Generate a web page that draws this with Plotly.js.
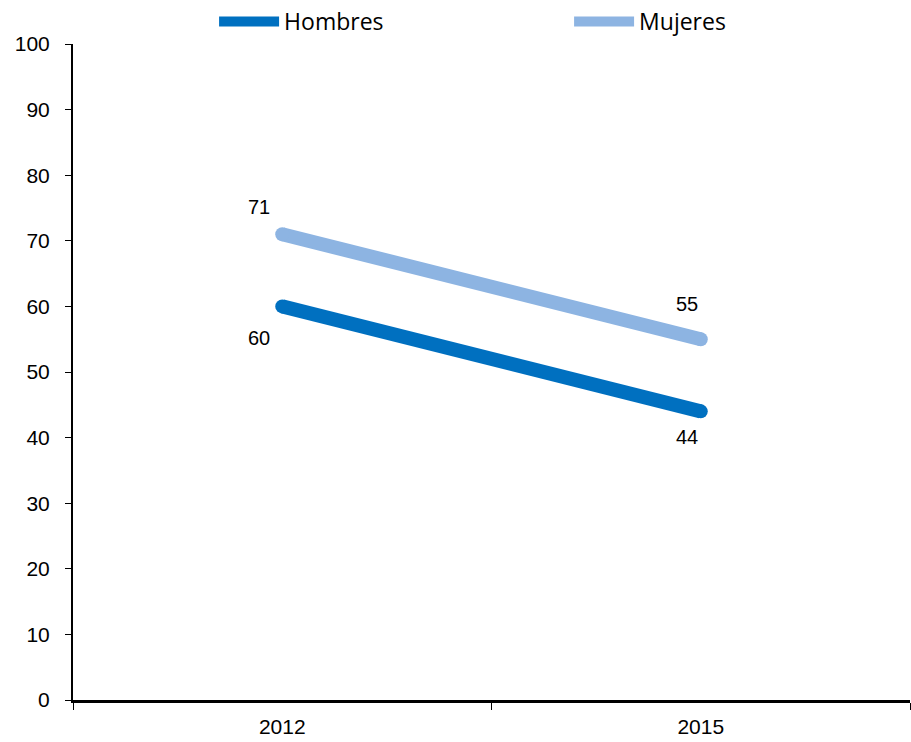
<!DOCTYPE html>
<html><head><meta charset="utf-8">
<script src="https://cdn.plot.ly/plotly-3.0.1.min.js"></script>
<style>html,body{margin:0;padding:0;background:#fff}</style>
</head><body>
<div id="chart" style="width:911px;height:742px"></div>
<script>
const years = ["2012", "2015"];
const hombres = [60, 44];
const mujeres = [71, 55];
const yTicks = [0, 10, 20, 30, 40, 50, 60, 70, 80, 90, 100];
const hombresLabelShift = [[-23, -32], [-14, -26]];
const mujeresLabelShift = [[-23, 27], [-14, 35]];

const labelFont = {family: "Liberation Sans, Arial, sans-serif", size: 20, color: "#000"};
const cH = "#0070C0", cM = "#8DB4E2";

const traces = [
  {x: years, y: hombres, name: "Hombres", type: "scatter", mode: "lines",
   line: {color: cH, width: 14}},
  {x: years, y: hombres, name: "Hombres", type: "scatter", mode: "markers", showlegend: false,
   marker: {color: cH, size: 14, line: {width: 0}}},
  {x: years, y: mujeres, name: "Mujeres", type: "scatter", mode: "lines",
   line: {color: cM, width: 14}},
  {x: years, y: mujeres, name: "Mujeres", type: "scatter", mode: "markers", showlegend: false,
   marker: {color: cM, size: 14, line: {width: 0}}}
];

const annotations = [];
years.forEach((yr, i) => {
  annotations.push({x: i, y: hombres[i], xref: "x", yref: "y", text: String(hombres[i]),
    showarrow: false, xshift: hombresLabelShift[i][0], yshift: hombresLabelShift[i][1], font: labelFont});
  annotations.push({x: i, y: mujeres[i], xref: "x", yref: "y", text: String(mujeres[i]),
    showarrow: false, xshift: mujeresLabelShift[i][0], yshift: mujeresLabelShift[i][1], font: labelFont});
});

const layout = {
  width: 911, height: 742,
  margin: {l: 73, r: 1, t: 44, b: 42},
  paper_bgcolor: "#fff", plot_bgcolor: "#fff",
  showlegend: true,
  annotations: annotations,
  legend: {
    orientation: "h", xref: "container", x: 0.235, xanchor: "left",
    yref: "container", y: 1.0, yanchor: "top",
    itemwidth: 60,
    entrywidth: 280, entrywidthmode: "pixels",
    font: {family: "Open Sans, Lato, sans-serif", size: 23, color: "#000"},
    bgcolor: "rgba(0,0,0,0)"
  },
  xaxis: {
    type: "category", range: [-0.5, 1.5],
    showgrid: false, zeroline: false,
    showline: true, linecolor: "#000", linewidth: 3,
    ticks: "outside", tickson: "boundaries", ticklen: 7, tickcolor: "#000", tickwidth: 1,
    ticklabelstandoff: 6,
    tickfont: {family: "Liberation Sans Narrow, Arial Narrow, sans-serif", size: 21, color: "#000"},
    fixedrange: true
  },
  yaxis: {
    range: [0, 100], tickvals: yTicks, ticktext: yTicks.map(String),
    showgrid: false, zeroline: false,
    showline: true, linecolor: "#000", linewidth: 2,
    ticks: "outside", ticklen: 6, tickcolor: "#000", tickwidth: 1,
    ticklabelstandoff: 11,
    tickfont: {family: "Liberation Sans, Arial, sans-serif", size: 21, color: "#000"},
    fixedrange: true
  }
};

Plotly.newPlot("chart", traces, layout, {displayModeBar: false, staticPlot: true});
</script>
</body></html>
